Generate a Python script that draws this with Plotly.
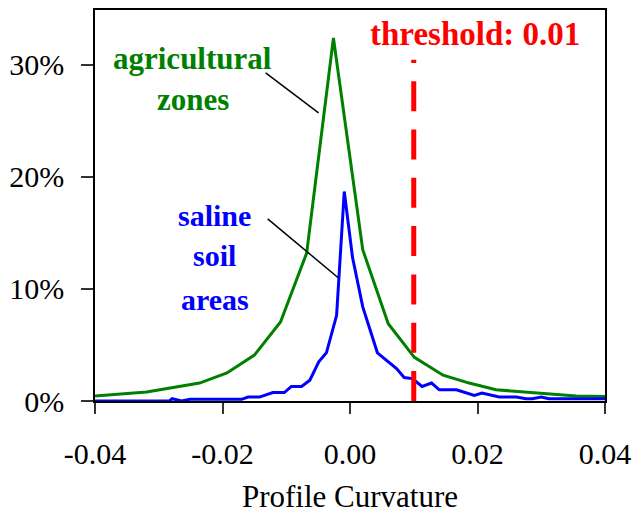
import plotly.graph_objects as go

# Data
agri_x = [-0.040, -0.0319, -0.0236, -0.0193, -0.0150, -0.0109, -0.0068, -0.0026,
          0.0020, 0.0060, 0.0101, 0.0146, 0.0187, 0.0229, 0.0355, 0.040]
agri_y = [0.45, 0.8, 1.6, 2.5, 4.1, 7.05, 13.2, 32.4,
          13.5, 6.9, 3.9, 2.3, 1.6, 1.0, 0.45, 0.4]

saline_x = [-0.040, -0.0283, -0.0279, -0.0264, -0.0251, -0.0170, -0.0160, -0.0142,
            -0.0121, -0.0103, -0.0092, -0.0076, -0.0063, -0.0049, -0.0037, -0.0021,
            -0.0009, 0.0004, 0.0020, 0.0043, 0.0073, 0.0085, 0.0098, 0.0113,
            0.0128, 0.0140, 0.0167, 0.0195, 0.0207, 0.0234, 0.0261, 0.0276,
            0.0286, 0.0300, 0.0312, 0.040]
saline_y = [0.0, 0.0, 0.2, 0.0, 0.15, 0.15, 0.35, 0.35,
            0.75, 0.75, 1.3, 1.3, 1.85, 3.5, 4.3, 7.65,
            18.7, 12.8, 8.4, 4.3, 2.9, 2.1, 2.0, 1.3,
            1.6, 1.0, 1.0, 0.5, 0.7, 0.35, 0.35, 0.2,
            0.2, 0.35, 0.2, 0.2]

threshold = 0.01
threshold_top = 30.45

x_tickvals = [-0.04, -0.02, 0.0, 0.02, 0.04]
x_ticktext = ["-0.04", "-0.02", "0.00", "0.02", "0.04"]
y_tickvals = [0, 10, 20, 30]
y_ticktext = ["0%", "10%", "20%", "30%"]

FONT = "Liberation Serif"

fig = go.Figure()
fig.add_trace(go.Scatter(x=agri_x, y=agri_y, mode="lines",
                         line=dict(color="#008000", width=3), cliponaxis=False,
                         showlegend=False))
fig.add_trace(go.Scatter(x=saline_x, y=saline_y, mode="lines",
                         line=dict(color="#0000FF", width=3), cliponaxis=False,
                         showlegend=False))
fig.add_trace(go.Scatter(x=[threshold, threshold], y=[0, threshold_top], mode="lines",
                         line=dict(color="#FF0000", width=5, dash="30px,18.3px"),
                         cliponaxis=False, showlegend=False))

# leader lines
fig.add_shape(type="line", x0=-0.01323, y0=29.29, x1=-0.00493, y1=25.71,
              line=dict(color="black", width=1.5))
fig.add_shape(type="line", x0=-0.01291, y0=16.25, x1=-0.00180, y1=10.98,
              line=dict(color="black", width=1.5))

def label(text, x, y, color, size):
    fig.add_annotation(x=x, y=y, text=text, showarrow=False,
                       xanchor="center", yanchor="middle",
                       font=dict(family=FONT, size=size, color=color, weight=700))

label("agricultural", -0.02466, 30.6, "#008000", 31)
label("zones", -0.02466, 26.9, "#008000", 31)
label("saline", -0.0212, 16.6, "#0000FF", 30)
label("soil", -0.0212, 13.0, "#0000FF", 30)
label("areas", -0.0212, 9.1, "#0000FF", 30)
label("threshold: 0.01", 0.01965, 32.8, "#FF0000", 33)

fig.update_layout(
    width=636, height=514,
    margin=dict(l=95, r=31, t=10, b=113),
    plot_bgcolor="white", paper_bgcolor="white",
    font=dict(family=FONT, size=30, color="black"),
)
fig.update_xaxes(range=[-0.04, 0.04], tickvals=x_tickvals, ticktext=x_ticktext,
                 showgrid=False, zeroline=False, showline=True, linecolor="black",
                 linewidth=1.5, mirror=True, ticks="outside", ticklen=11,
                 tickcolor="#333", tickwidth=1.5, ticklabelstandoff=14,
                 automargin=False,
                 title=dict(text="Profile Curvature", standoff=17,
                            font=dict(family=FONT, size=31)),
                 tickfont=dict(family=FONT, size=30))
fig.update_yaxes(range=[0, 34.9], tickvals=y_tickvals, ticktext=y_ticktext,
                 showgrid=False, zeroline=False, showline=True, linecolor="black",
                 linewidth=1.5, mirror=True, ticks="outside", ticklen=12,
                 tickcolor="#333", tickwidth=1.5, ticklabelstandoff=11,
                 automargin=False,
                 tickfont=dict(family=FONT, size=30))

fig.write_html("out.html")
